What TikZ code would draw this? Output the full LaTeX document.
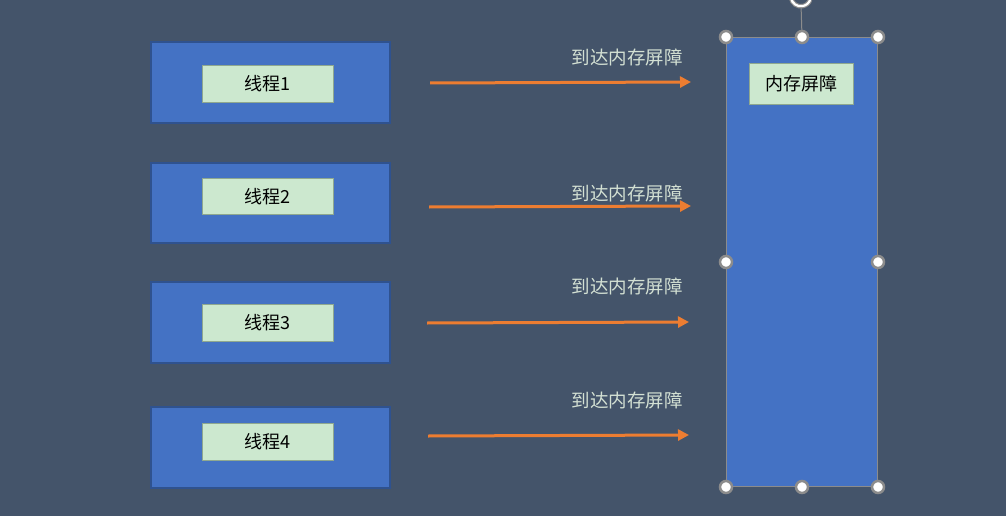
\documentclass[tikz,border=0pt]{standalone}
\usepackage{fontspec}
\newfontfamily\cjk{Noto Sans CJK SC}
\usetikzlibrary{arrows.meta}
\definecolor{bg}{HTML}{44546A}
\definecolor{boxblue}{HTML}{4472C4}
\definecolor{boxedge}{HTML}{2F528F}
\definecolor{pale}{HTML}{CCE8CF}
\definecolor{paleedge}{HTML}{8FA88F}
\definecolor{arr}{HTML}{ED7D31}
\definecolor{lbl}{HTML}{D3E0D3}
\definecolor{hgray}{HTML}{8C8C8C}
\tikzset{
  x=1pt,y=-1pt,
  threadbox/.style={draw=boxedge,line width=1.8pt,fill=boxblue},
  tag/.style={draw=paleedge,line width=0.9pt,fill=pale,font=\cjk\fontsize{18}{20}\selectfont,text=black},
  flow/.style={draw=arr,line width=3pt,-{Triangle[length=11pt,width=11pt]}},
  reach/.style={font=\cjk\fontsize{18.5}{20}\selectfont,text=lbl},
  handle/.style={circle,draw=hgray,line width=2.5pt,fill=white,minimum size=12pt,inner sep=0pt}
}
\begin{document}
\begin{tikzpicture}
\fill[bg] (0,0) rectangle (1006,516);
\useasboundingbox (0,0) rectangle (1006,516);
% thread boxes
\foreach \i/\ya/\yb/\ga/\gb in {1/42/123/65/102,2/163/243/178/214,3/282/363/304/341,4/407/488/423/460}{
  \draw[threadbox] (151,\ya) rectangle (390,\yb);
  \node[tag,minimum width=131pt,minimum height={\gb-\ga},anchor=north west,inner sep=0pt] (t\i) at (202,\ga) {线程\i};
}
% barrier box
\node[draw=hgray,line width=1pt,fill=boxblue,minimum width=151pt,minimum height=449pt,anchor=north west,inner sep=0pt] (barrier) at (726,37) {};
\node[tag,minimum width=104pt,minimum height=41pt,anchor=north west,inner sep=0pt] (mb) at (749,63) {内存屏障};
% arrows and labels
\coordinate (s1) at (430,83); \coordinate (e1) at (691,82);
\coordinate (s2) at (429,207); \coordinate (e2) at (691,206);
\coordinate (s3) at (427,323); \coordinate (e3) at (689,322);
\coordinate (s4) at (428,436); \coordinate (e4) at (689,435);
\foreach \i in {1,2,3,4}{\draw[flow] (s\i) -- (e\i);}
\node[reach] (l1) at (627,57) {到达内存屏障};
\node[reach] (l2) at (627,193) {到达内存屏障};
\node[reach] (l3) at (627,286) {到达内存屏障};
\node[reach] (l4) at (627,400) {到达内存屏障};
% selection handles
\coordinate (rot) at (801,4);
\draw[hgray,line width=1pt] (barrier.north) -- (rot);
\draw[hgray,line width=4.5pt] (791,-2) arc[start angle=190,end angle=340,radius=10pt];
\draw[white,line width=2.2pt] (791,-2) arc[start angle=190,end angle=340,radius=10pt];
\foreach \a in {north west,north,north east,west,east,south west,south,south east}{
  \node[handle] at (barrier.\a) {};
}
\end{tikzpicture}
\end{document}
